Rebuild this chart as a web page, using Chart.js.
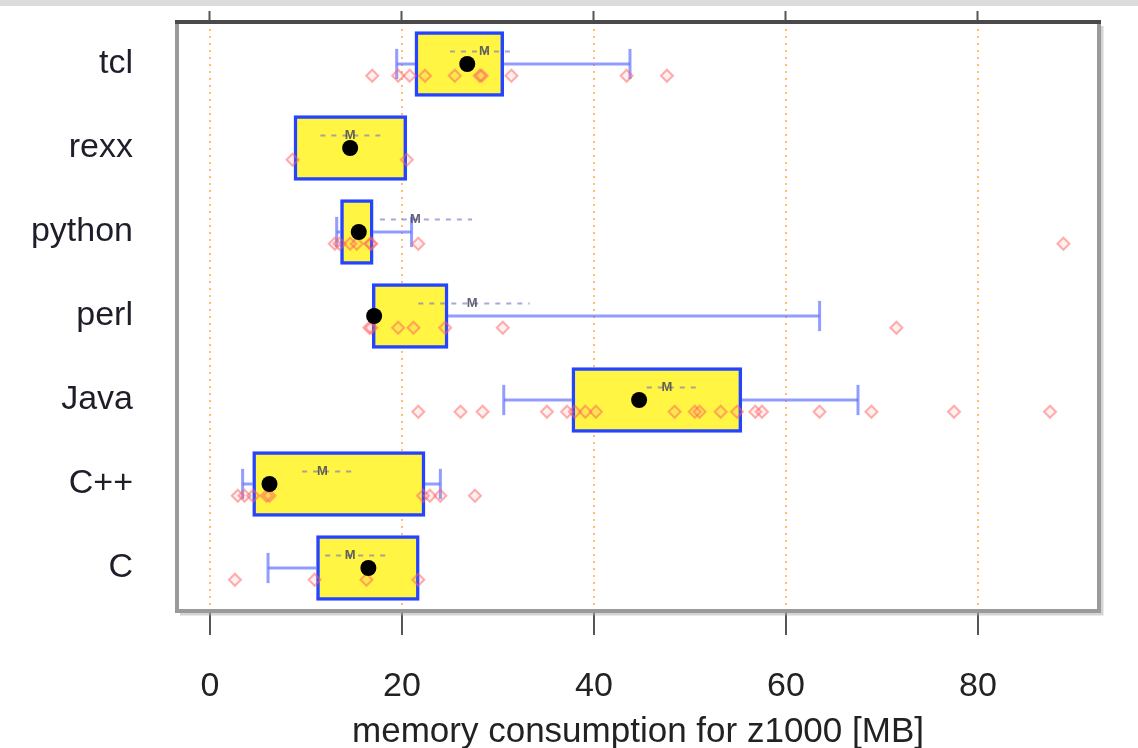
<!DOCTYPE html>
<html>
<head>
<meta charset="utf-8">
<script src="https://cdn.jsdelivr.net/npm/chart.js@4/dist/chart.umd.min.js"></script>
<style>
  html, body { margin: 0; padding: 0; background: #ffffff; }
  #wrap { width: 1138px; height: 748px; position: relative; }
</style>
</head>
<body>
<div id="wrap"><canvas id="c" width="1138" height="748"></canvas></div>
<script>
// ---- data ----
const categories = ['C', 'C++', 'Java', 'perl', 'python', 'rexx', 'tcl'];
const xTickValues = [0, 20, 40, 60, 80];
const axisTitle = 'memory consumption for z1000 [MB]';

const q1 = [11.1, 4.45, 37.7, 16.9, 13.6, 8.75, 21.35];
const q3 = [21.8, 22.4, 55.4, 24.8, 17.0, 20.5, 30.6];
const medians = [16.5, 6.2, 44.7, 17.1, 15.5, 14.6, 26.8];
const whiskerLo = [6.05, 3.4, 30.6, 16.9, 13.2, 8.75, 19.45];
const whiskerHi = [21.8, 24.0, 67.5, 63.5, 21.0, 20.5, 43.75];
const means = [14.6, 11.7, 47.6, 27.3, 21.4, 14.6, 28.6];
const meanLo = [12.0, 9.6, 45.5, 21.7, 17.7, 11.5, 25.0];
const meanHi = [18.5, 14.8, 51.0, 33.3, 27.3, 18.0, 31.6];

const obsC = [2.6, 10.9, 16.3, 21.7];
const obsCpp = [2.9, 3.6, 4.5, 5.9, 6.2, 22.2, 22.9, 24.0, 27.6];
const obsJava = [21.7, 26.1, 28.4, 35.1, 37.2, 38.0, 39.1, 40.2, 48.4, 50.5, 51.0, 53.2, 54.9, 56.8, 57.5, 63.5, 68.9, 77.5, 87.5];
const obsPerl = [16.6, 16.8, 19.6, 21.2, 24.5, 30.5, 71.5];
const obsPython = [13.0, 13.5, 14.6, 15.3, 16.7, 16.8, 21.7, 88.9];
const obsRexx = [8.6, 20.5];
const obsTcl = [16.9, 19.6, 20.8, 22.4, 25.5, 28.1, 28.3, 31.4, 43.4, 47.6];
const observations = [obsC, obsCpp, obsJava, obsPerl, obsPython, obsRexx, obsTcl];

// ---- styling ----
const FONT = "'Liberation Sans', Arial, Helvetica, sans-serif";
const ptOffset = -0.14, meanOffset = 0.15, capHalf = 0.18;

const datasets = [];
datasets.push({
  type: 'bar', indexAxis: 'y', order: 10,
  data: categories.map((c, i) => ({ y: i + 1, x: [q1[i], q3[i]] })),
  backgroundColor: '#fff542', borderColor: '#2544ff', borderWidth: 3.5,
  borderSkipped: false, barThickness: 65
});
function seg(pts, color, width, dash, order) {
  datasets.push({
    type: 'line', order: order, data: pts, borderColor: color, borderWidth: width,
    borderDash: dash || [], pointRadius: 0, fill: false, tension: 0
  });
}
categories.forEach((c, i) => {
  const y = i + 1;
  const wc = 'rgba(100,115,255,0.7)';
  if (whiskerLo[i] < q1[i]) {
    seg([{ x: whiskerLo[i], y: y }, { x: q1[i], y: y }], wc, 3, null, 5);
    seg([{ x: whiskerLo[i], y: y - capHalf }, { x: whiskerLo[i], y: y + capHalf }], wc, 3, null, 5);
  }
  if (whiskerHi[i] > q3[i]) {
    seg([{ x: q3[i], y: y }, { x: whiskerHi[i], y: y }], wc, 3, null, 5);
    seg([{ x: whiskerHi[i], y: y - capHalf }, { x: whiskerHi[i], y: y + capHalf }], wc, 3, null, 5);
  }
  seg([{ x: meanLo[i], y: y + meanOffset }, { x: meanHi[i], y: y + meanOffset }], 'rgba(110,110,200,0.6)', 2, [5, 6], 6);
});
datasets.push({
  type: 'scatter', order: 3,
  data: observations.flatMap((arr, i) => arr.map(v => ({ x: v, y: i + 1 + ptOffset }))),
  pointStyle: 'rectRot', pointRadius: 6, borderWidth: 2,
  borderColor: 'rgba(255,95,95,0.5)', backgroundColor: 'rgba(255,120,120,0.12)'
});
datasets.push({
  type: 'scatter', order: 1,
  data: medians.map((v, i) => ({ x: v, y: i + 1 })),
  pointStyle: 'circle', pointRadius: 8, borderWidth: 0,
  backgroundColor: '#000000', borderColor: '#000000'
});

const decor = {
  id: 'decor',
  beforeDraw(chart) {
    const ctx = chart.ctx;
    ctx.save();
    ctx.fillStyle = '#dcdcdc';
    ctx.fillRect(0, 0, chart.width, 6);
    ctx.restore();
  },
  afterDatasetsDraw(chart) {
    const ctx = chart.ctx, xs = chart.scales.x, ys = chart.scales.y;
    ctx.save();
    ctx.font = "bold 13px " + FONT;
    ctx.fillStyle = 'rgba(70,70,90,0.85)';
    ctx.textAlign = 'center';
    ctx.textBaseline = 'middle';
    means.forEach((m, i) => {
      ctx.fillText('M', xs.getPixelForValue(m), ys.getPixelForValue(i + 1 + meanOffset));
    });
    ctx.restore();
  },
  afterDraw(chart) {
    const ctx = chart.ctx, a = chart.chartArea;
    ctx.save();
    ctx.strokeStyle = 'rgba(170,170,170,0.5)';
    ctx.lineWidth = 3;
    ctx.beginPath();
    ctx.moveTo(a.right + 4, a.top + 4);
    ctx.lineTo(a.right + 4, a.bottom + 4);
    ctx.lineTo(a.left + 2, a.bottom + 4);
    ctx.stroke();
    ctx.strokeStyle = '#9a9a9a';
    ctx.lineWidth = 4;
    ctx.beginPath();
    ctx.moveTo(a.left - 1, a.top);
    ctx.lineTo(a.left - 1, a.bottom + 1);
    ctx.lineTo(a.right + 1, a.bottom + 1);
    ctx.lineTo(a.right + 1, a.top);
    ctx.stroke();
    ctx.strokeStyle = '#4a4a4a';
    ctx.lineWidth = 4;
    ctx.beginPath();
    ctx.moveTo(a.left - 3, a.top);
    ctx.lineTo(a.right + 3, a.top);
    ctx.stroke();
    ctx.restore();
  }
};

const xMin = -3.33, xMax = 92.5;
new Chart(document.getElementById('c'), {
  type: 'bar',
  data: { datasets: datasets },
  options: {
    responsive: false, animation: false,
    layout: { padding: { left: 0, right: 40, top: 0, bottom: 0 } },
    plugins: { legend: { display: false }, tooltip: { enabled: false } },
    scales: {
      x: {
        type: 'linear', axis: 'x', position: 'bottom', min: xMin, max: xMax, offset: false,
        afterBuildTicks: s => { s.ticks = xTickValues.map(v => ({ value: v })); },
        afterFit: s => { s.height = 138; s.paddingLeft = 0; s.paddingRight = 0; },
        ticks: { color: '#222222', font: { family: FONT, size: 34, lineHeight: 1.2 }, padding: 31, maxRotation: 0 },
        grid: { offset: false, color: 'rgba(255,165,60,0.75)', lineWidth: 2, drawTicks: true, tickLength: 25,
                tickColor: '#555555', tickWidth: 2 },
        border: { display: false, dash: [2, 5] },
        title: { display: true, text: axisTitle, color: '#222222', font: { family: FONT, size: 35, lineHeight: 0.9 },
                 padding: { top: 0, bottom: 0 } }
      },
      x2: {
        type: 'linear', axis: 'x', position: 'top', min: xMin, max: xMax, offset: false,
        afterBuildTicks: s => { s.ticks = xTickValues.map(v => ({ value: v })); },
        afterFit: s => { s.height = 22; s.paddingLeft = 0; s.paddingRight = 0; },
        ticks: { display: false },
        grid: { offset: false, drawOnChartArea: false, drawTicks: true, tickLength: 11,
                tickColor: '#555555', tickWidth: 2 },
        border: { display: false }
      },
      y: {
        type: 'linear', axis: 'y', position: 'left', min: 0.5, max: 7.5, offset: false,
        afterBuildTicks: s => { s.ticks = categories.map((c, i) => ({ value: i + 1 })); },
        afterFit: s => { s.width = 178; s.paddingTop = 0; s.paddingBottom = 0; },
        ticks: { color: '#1e1e2a', font: { family: FONT, size: 34 }, padding: 45,
                 callback: v => categories[v - 1] },
        grid: { display: false, drawTicks: false },
        border: { display: false }
      }
    }
  },
  plugins: [decor]
});
</script>
</body>
</html>
